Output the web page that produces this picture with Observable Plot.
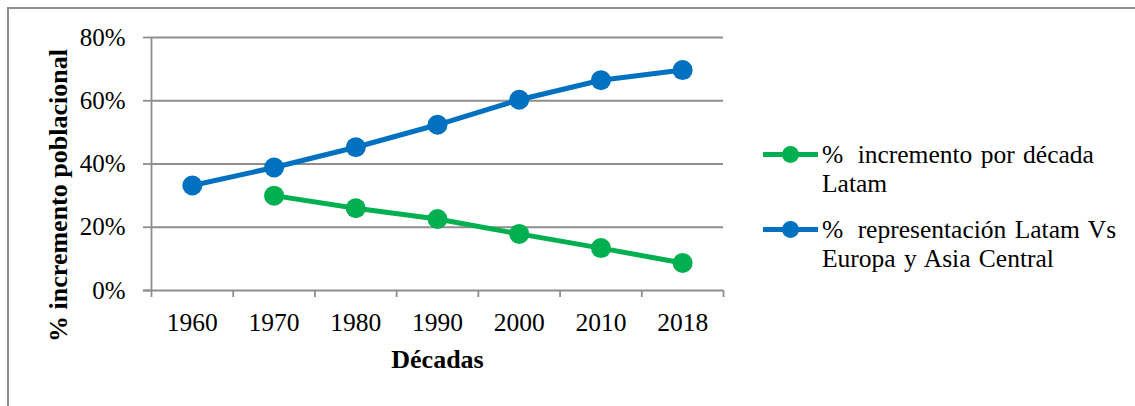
<!DOCTYPE html>
<html><head><meta charset="utf-8">
<script src="https://cdn.jsdelivr.net/npm/d3@7"></script>
<script src="https://cdn.jsdelivr.net/npm/@observablehq/plot@0.6"></script>
<style>
body{margin:0;background:#fff;}
#wrap{position:relative;width:1135px;height:406px;overflow:hidden;font-family:"Liberation Serif","Times New Roman",serif;color:#000;}
#border{position:absolute;left:7px;top:7px;width:1200px;height:500px;border-top:2px solid #8e8e8e;border-left:2px solid #8e8e8e;pointer-events:none;}
#chart{position:absolute;left:0;top:0;}
.entry{position:absolute;left:763px;font-size:25.5px;line-height:29px;white-space:nowrap;word-spacing:2px;}
.entry svg{position:absolute;left:0;top:0;overflow:visible;}
.entry .txt{position:absolute;left:59px;top:0;}
.entry .pct{margin-right:6px;}
</style></head>
<body><div id="wrap"><div id="chart"></div><div id="border"></div></div>
<script>
const decades = ["1960","1970","1980","1990","2000","2010","2018"];
const incremento = [null, 30.0, 26.0, 22.6, 17.9, 13.4, 8.7];
const representacion = [33.2, 38.9, 45.3, 52.4, 60.3, 66.5, 69.7];
const yTicks = [0, 20, 40, 60, 80];
const seriesNames = ["% incremento por década Latam", "% representación Latam Vs Europa y Asia Central"];
const legendLines = [["% incremento por década", "Latam"], ["% representación Latam Vs", "Europa y Asia Central"]];
const seriesColors = ["#00B050", "#0070C0"];
const yTitle = "% incremento poblacional";
const xTitle = "Décadas";

const rows = (vals) => vals.map((v, i) => ({i: i + 0.5, v})).filter(d => d.v != null);
const incRows = rows(incremento);
const repRows = rows(representacion);
const grid = "#8e8e8e";

const plot = Plot.plot({
  width: 1135, height: 406,
  marginLeft: 151, marginRight: 412, marginTop: 37, marginBottom: 116,
  style: {fontFamily: '"Liberation Serif","Times New Roman",serif', fontSize: "25px", color: "#000", background: "transparent"},
  x: {domain: [0, decades.length], label: null},
  y: {domain: [0, 80], label: null},
  marks: [
    Plot.ruleY(yTicks.filter(d => d > 0), {stroke: grid, strokeWidth: 1.8}),
    Plot.ruleY([0], {stroke: grid, strokeWidth: 1.8, insetLeft: -8}),
    Plot.ruleX([0], {stroke: grid, strokeWidth: 1.8, insetBottom: -7}),
    Plot.axisY({ticks: yTicks, tickSize: 8, tickPadding: 18, tickFormat: d => d + "%", stroke: grid, strokeWidth: 1.8, fontSize: 25}),
    Plot.axisX({ticks: d3.range(1, decades.length + 1), tickSize: 7, tickFormat: () => "", stroke: grid, strokeWidth: 1.8}),
    Plot.axisX({ticks: decades.map((d, i) => i + 0.5), tickSize: 0, tickPadding: 22, tickFormat: d => decades[Math.floor(d)], fontSize: 25.5}),
    Plot.line(incRows, {x: "i", y: "v", stroke: seriesColors[0], strokeWidth: 5}),
    Plot.dot(incRows, {x: "i", y: "v", r: 10, fill: seriesColors[0]}),
    Plot.line(repRows, {x: "i", y: "v", stroke: seriesColors[1], strokeWidth: 5}),
    Plot.dot(repRows, {x: "i", y: "v", r: 10, fill: seriesColors[1]}),
    Plot.text([yTitle], {frameAnchor: "left", textAnchor: "middle", lineAnchor: "middle", rotate: -90, dx: -93, dy: 31.5, fontWeight: "bold", fontSize: 26}),
    Plot.text([xTitle], {frameAnchor: "bottom", textAnchor: "middle", lineAnchor: "middle", dy: 69, fontWeight: "bold", fontSize: 26})
  ]
});
document.getElementById("chart").appendChild(plot);

const tops = [140.4, 215];
const wrap = document.getElementById("wrap");
legendLines.forEach((lines, k) => {
  const e = document.createElement("div");
  e.className = "entry";
  e.style.top = tops[k] + "px";
  e.title = seriesNames[k];
  const first = lines[0].replace(/^% /, '<span class="pct">%</span> ');
  e.innerHTML = `<svg width="55" height="30"><line x1="0" x2="55" y1="14.6" y2="14.6" stroke="${seriesColors[k]}" stroke-width="5"/><circle cx="27.5" cy="14.6" r="8.5" fill="${seriesColors[k]}"/></svg><div class="txt">${first}<br>${lines[1]}</div>`;
  wrap.appendChild(e);
});
</script></body></html>
